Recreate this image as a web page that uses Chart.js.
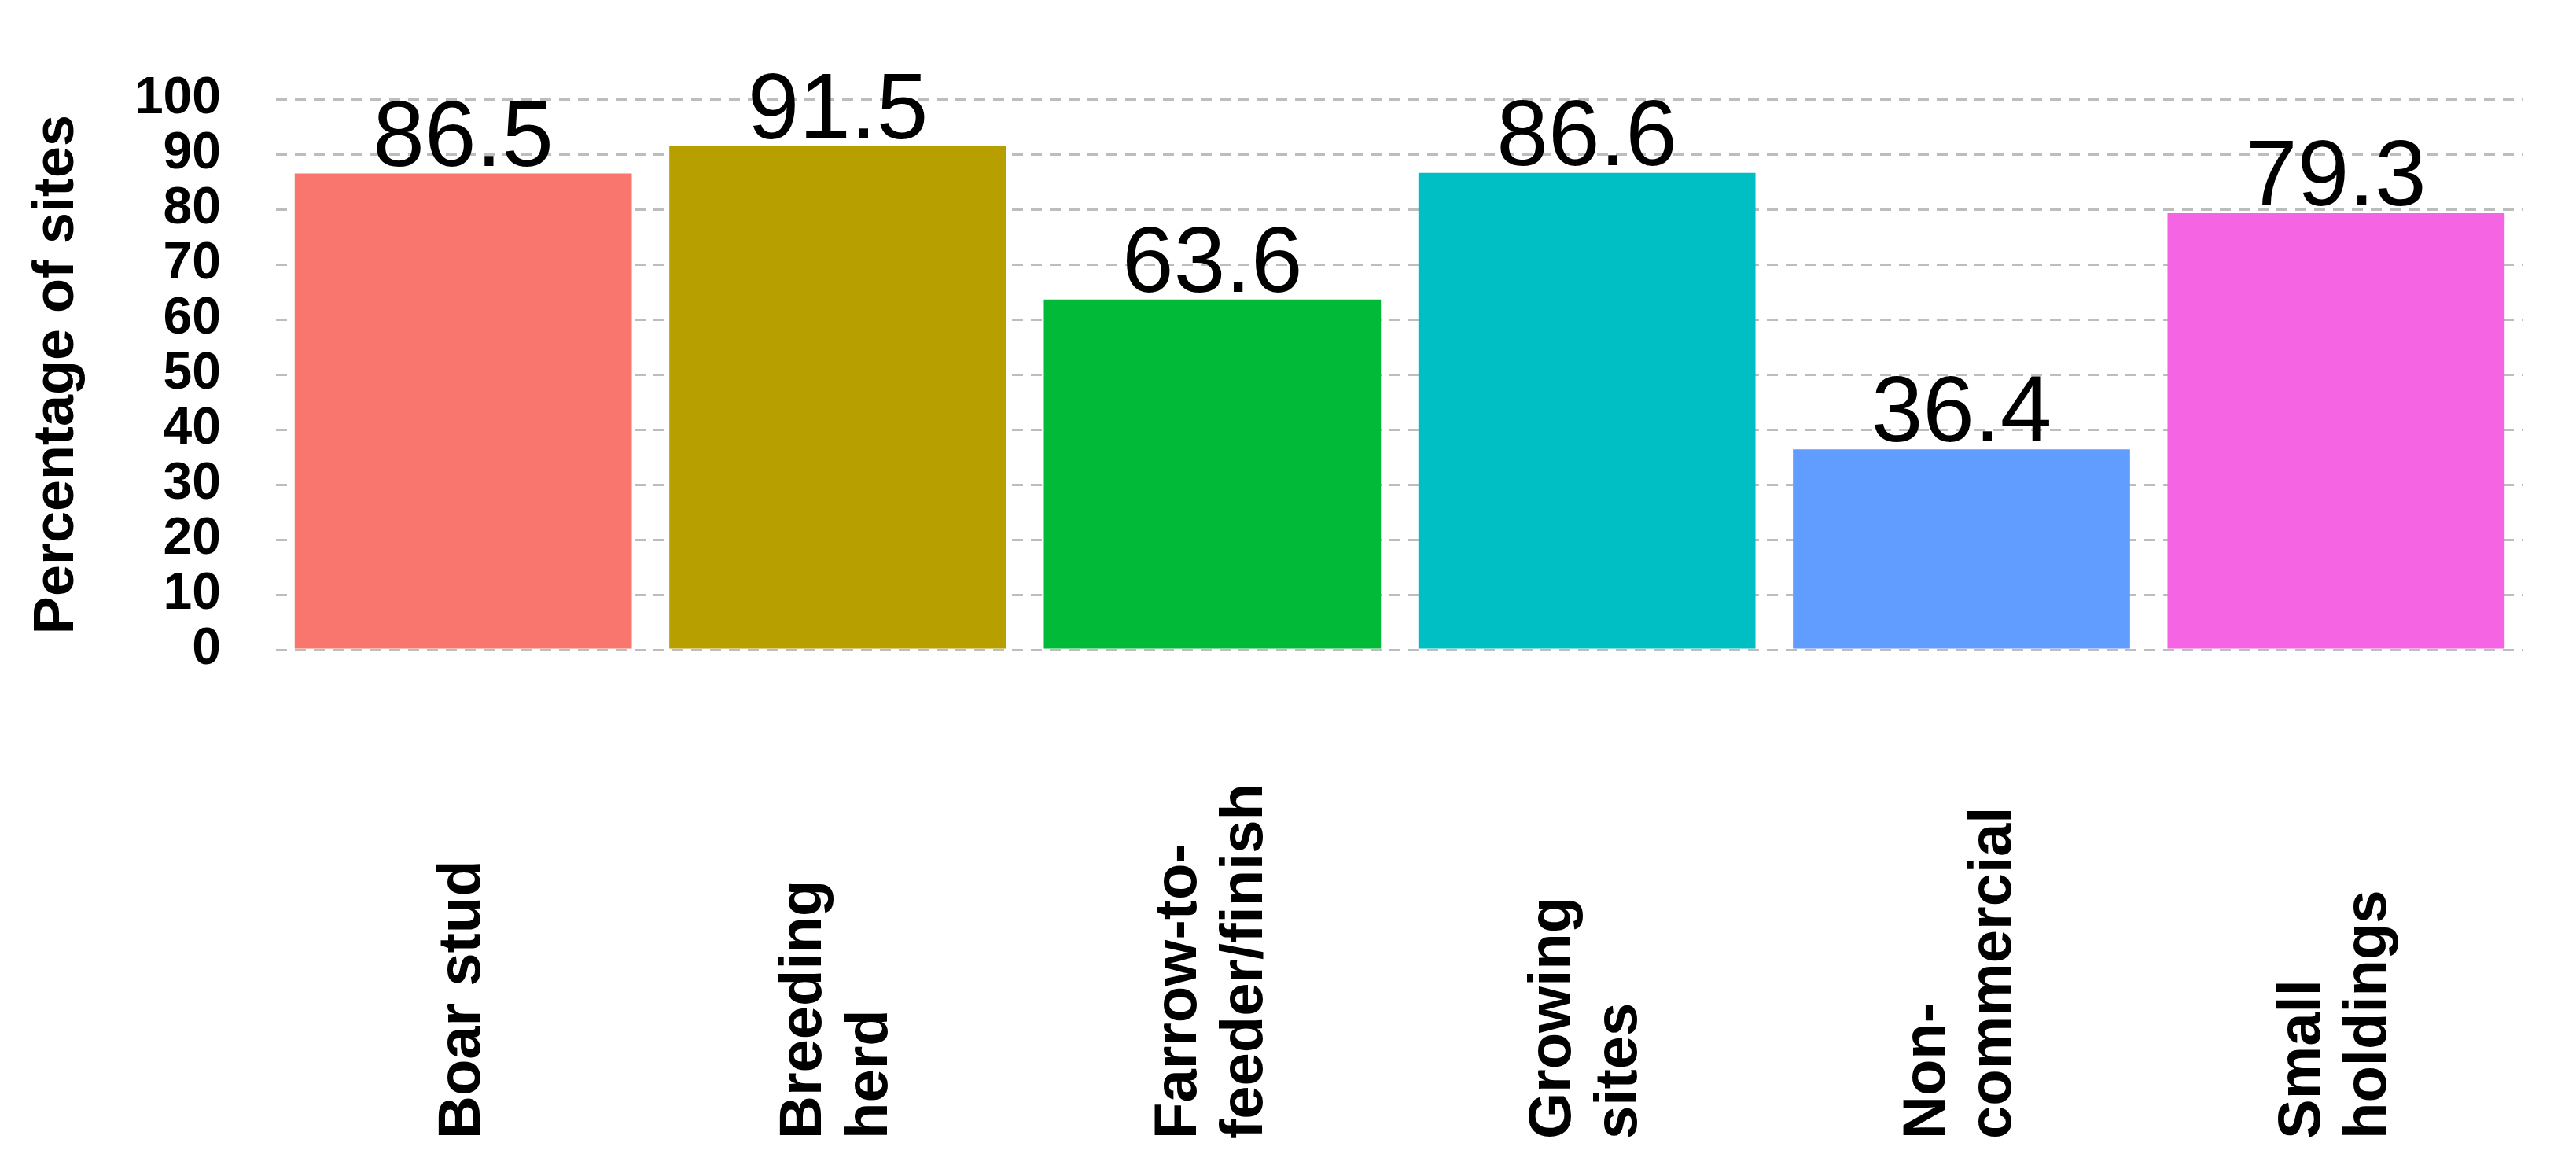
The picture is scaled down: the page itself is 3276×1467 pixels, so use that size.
<!DOCTYPE html>
<html>
<head>
<meta charset="utf-8">
<script src="https://cdn.jsdelivr.net/npm/chart.js@4"></script>
<style>
  html, body { margin: 0; padding: 0; background: #fff; }
  canvas { display: block; }
</style>
</head>
<body>
<canvas id="chart" width="3276" height="1467"></canvas>
<script>
// chart data
const categories = [
  ['Boar stud'],
  ['Breeding', 'herd'],
  ['Farrow-to-', 'feeder/finish'],
  ['Growing', 'sites'],
  ['Non-', 'commercial'],
  ['Small', 'holdings']
];
const percentages = [86.5, 91.5, 63.6, 86.6, 36.4, 79.3];
const barColors = ['#F8766D', '#B79F00', '#00BA38', '#00BFC4', '#619CFF', '#F564E3'];
const yTicks = [0, 10, 20, 30, 40, 50, 60, 70, 80, 90, 100];

const FONT = '"Liberation Sans", Arial, sans-serif';

/* value labels above bars + rotated category labels below */
const labelsPlugin = {
  id: 'labels',
  afterDatasetsDraw(chart) {
    const ctx = chart.ctx;
    const meta = chart.getDatasetMeta(0);
    const xScale = chart.scales.x;
    ctx.save();
    ctx.fillStyle = '#000';
    ctx.font = `118px ${FONT}`;
    ctx.textAlign = 'center';
    ctx.textBaseline = 'alphabetic';
    meta.data.forEach((bar, i) => {
      ctx.fillText(percentages[i].toFixed(1), bar.x, bar.y - 10);
    });

    ctx.font = `bold 76px ${FONT}`;
    ctx.textAlign = 'left';
    ctx.textBaseline = 'middle';
    const lineH = 84;
    const bottom = 1448;
    categories.forEach((lines, i) => {
      const x = xScale.getPixelForValue(i);
      ctx.save();
      ctx.translate(x, bottom);
      ctx.rotate(-Math.PI / 2);
      const off = (lines.length - 1) * lineH / 2;
      lines.forEach((l, j) => ctx.fillText(l, 0, -off + j * lineH));
      ctx.restore();
    });
    ctx.restore();
  }
};

new Chart(document.getElementById('chart'), {
  type: 'bar',
  data: {
    labels: categories.map(c => c.join(' ')),
    datasets: [{
      data: percentages,
      backgroundColor: barColors,
      categoryPercentage: 1,
      barPercentage: 0.9
    }]
  },
  options: {
    responsive: false,
    devicePixelRatio: 1,
    animation: false,
    layout: { padding: { top: 126, right: 67, bottom: 633, left: 0 } },
    plugins: { legend: { display: false }, tooltip: { enabled: false } },
    scales: {
      x: {
        grid: { display: false },
        border: { display: false },
        ticks: { display: false }
      },
      y: {
        min: 0,
        max: 100,
        afterBuildTicks(axis) { axis.ticks = yTicks.map(v => ({ value: v })); },
        afterFit(axis) { axis.width = 351; },
        border: { display: false, dash: [14, 10] },
        grid: { color: '#bdbdbd', lineWidth: 3, drawTicks: false },
        ticks: {
          autoSkip: false,
          color: '#000',
          padding: 70,
          font: { family: FONT, size: 66, weight: 'bold' }
        },
        title: {
          display: true,
          text: 'Percentage of sites',
          color: '#000',
          padding: { top: 30, bottom: 0 },
          font: { family: FONT, size: 72, weight: 'bold' }
        }
      }
    }
  },
  plugins: [labelsPlugin]
});
</script>
</body>
</html>
